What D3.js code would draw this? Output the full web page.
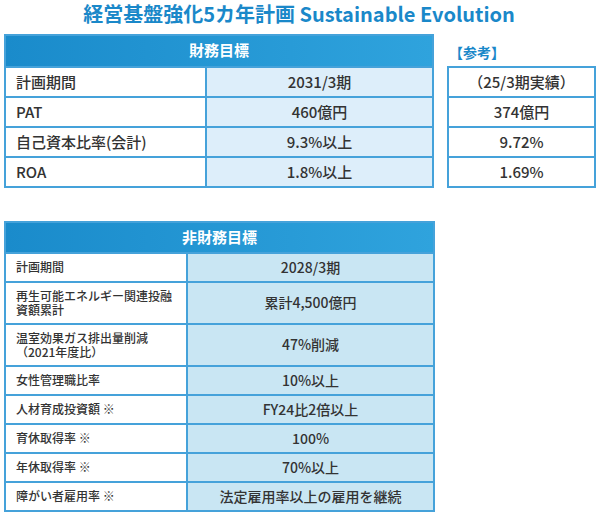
<!DOCTYPE html>
<html>
<head>
<meta charset="utf-8">
<script src="https://cdn.jsdelivr.net/npm/d3@7"></script>
<style>
  body { margin: 0; background: #fff; }
  text { font-family: "Noto Sans CJK JP", "Noto Sans", sans-serif; }
</style>
</head>
<body>
<div id="vis"></div>
<script>
const frame_width = 600;
const frame_height = 517;

// data
const title = "経営基盤強化5カ年計画 Sustainable Evolution";
const fin_header = "財務目標";
const fin_items = ["計画期間", "PAT", "自己資本比率(会計)", "ROA"];
const fin_targets = ["2031/3期", "460億円", "9.3%以上", "1.8%以上"];
const ref_label = "【参考】";
const ref_values = ["（25/3期実績）", "374億円", "9.72%", "1.69%"];

const nonfin_header = "非財務目標";
const nonfin_items = [
  ["計画期間"],
  ["再生可能エネルギー関連投融", "資額累計"],
  ["温室効果ガス排出量削減", "（2021年度比）"],
  ["女性管理職比率"],
  ["人材育成投資額 ※"],
  ["育休取得率 ※"],
  ["年休取得率 ※"],
  ["障がい者雇用率 ※"]
];
const nonfin_targets = ["2028/3期", "累計4,500億円", "47%削減", "10%以上", "FY24比2倍以上", "100%", "70%以上", "法定雇用率以上の雇用を継続"];

const blue = "#1a88c9";
const border = "#45a2da";

const svg = d3.select("#vis").append("svg")
  .attr("width", frame_width)
  .attr("height", frame_height);

const defs = svg.append("defs");
const grad = defs.append("linearGradient").attr("id", "hdr");
grad.append("stop").attr("offset", "0%").attr("stop-color", "#1a8bcb");
grad.append("stop").attr("offset", "100%").attr("stop-color", "#2fa3dd");

// title
svg.append("text")
  .attr("x", 299).attr("y", 22)
  .attr("text-anchor", "middle")
  .attr("font-size", 20).attr("font-weight", "bold")
  .attr("fill", blue)
  .text(title);

// ---------- financial table ----------
const f_x = d3.scaleLinear().domain([0, 1, 2]).range([5, 206, 433]);
const f_y = d3.scaleBand().domain(fin_items).range([67, 187]);

svg.append("rect")
  .attr("x", f_x(0)).attr("y", 35)
  .attr("width", f_x(2) - f_x(0)).attr("height", 32)
  .attr("fill", "url(#hdr)").attr("stroke", border).attr("stroke-width", 2);
svg.append("text")
  .attr("x", (f_x(0) + f_x(2)) / 2).attr("y", 56)
  .attr("text-anchor", "middle").attr("font-size", 15).attr("font-weight", "bold")
  .attr("fill", "#fff").text(fin_header);

fin_items.forEach((item, i) => {
  svg.append("rect")
    .attr("x", f_x(0)).attr("y", f_y(item))
    .attr("width", f_x(1) - f_x(0)).attr("height", f_y.bandwidth())
    .attr("fill", "#fff").attr("stroke", border).attr("stroke-width", 2);
  svg.append("rect")
    .attr("x", f_x(1)).attr("y", f_y(item))
    .attr("width", f_x(2) - f_x(1)).attr("height", f_y.bandwidth())
    .attr("fill", "#ddeefa").attr("stroke", border).attr("stroke-width", 2);
  svg.append("text")
    .attr("x", f_x(0) + 11).attr("y", f_y(item) + f_y.bandwidth() / 2 + 5.5)
    .attr("font-size", 15).attr("font-weight", 500).attr("fill", "#333").text(item);
  svg.append("text")
    .attr("x", (f_x(1) + f_x(2)) / 2).attr("y", f_y(item) + f_y.bandwidth() / 2 + 5.5)
    .attr("text-anchor", "middle").attr("font-size", 15).attr("font-weight", 500).attr("fill", "#333")
    .text(fin_targets[i]);
});

// reference box
const r_x = d3.scaleLinear().domain([0, 1]).range([448, 595]);
svg.append("text")
  .attr("x", r_x(0) + 1).attr("y", 58)
  .attr("font-size", 14).attr("font-weight", "bold").attr("fill", blue)
  .text(ref_label);
fin_items.forEach((item, i) => {
  svg.append("rect")
    .attr("x", r_x(0)).attr("y", f_y(item))
    .attr("width", r_x(1) - r_x(0)).attr("height", f_y.bandwidth())
    .attr("fill", "#fff").attr("stroke", border).attr("stroke-width", 2);
  svg.append("text")
    .attr("x", (r_x(0) + r_x(1)) / 2).attr("y", f_y(item) + f_y.bandwidth() / 2 + 5.5)
    .attr("text-anchor", "middle").attr("font-size", 15).attr("font-weight", 500).attr("fill", "#333")
    .text(ref_values[i]);
});

// ---------- non-financial table ----------
const n_x = d3.scaleLinear().domain([0, 1, 2]).range([5, 187, 434]);
const row_h = 29, line_h = 13;
let y0 = 253;
const n_rows = nonfin_items.map((lines, i) => {
  const h = row_h + line_h * (lines.length - 1);
  const r = {lines: lines, target: nonfin_targets[i], y: y0, h: h};
  y0 += h;
  return r;
});

svg.append("rect")
  .attr("x", n_x(0)).attr("y", 222)
  .attr("width", n_x(2) - n_x(0)).attr("height", 31)
  .attr("fill", "url(#hdr)").attr("stroke", border).attr("stroke-width", 2);
svg.append("text")
  .attr("x", (n_x(0) + n_x(2)) / 2).attr("y", 243)
  .attr("text-anchor", "middle").attr("font-size", 15).attr("font-weight", "bold")
  .attr("fill", "#fff").text(nonfin_header);

const rows = svg.selectAll(".nrow").data(n_rows).enter().append("g").attr("class", "nrow");
rows.append("rect")
  .attr("x", n_x(0)).attr("y", d => d.y)
  .attr("width", n_x(1) - n_x(0)).attr("height", d => d.h)
  .attr("fill", "#fff").attr("stroke", border).attr("stroke-width", 2);
rows.append("rect")
  .attr("x", n_x(1)).attr("y", d => d.y)
  .attr("width", n_x(2) - n_x(1)).attr("height", d => d.h)
  .attr("fill", "#c9e6f3").attr("stroke", border).attr("stroke-width", 2);
rows.each(function(d) {
  const g = d3.select(this);
  const top = d.y + d.h / 2 - (d.lines.length - 1) * 7 + 4.5;
  const t = g.append("text")
    .attr("x", n_x(0) + 11).attr("y", top)
    .attr("font-size", 12).attr("font-weight", 500).attr("fill", "#333");
  d.lines.forEach((ln, j) => {
    t.append("tspan")
      .attr("x", n_x(0) + 11).attr("dy", j === 0 ? 0 : 14)
      .text(ln);
  });
  g.append("text")
    .attr("x", (n_x(1) + n_x(2)) / 2).attr("y", d.y + d.h / 2 + 5)
    .attr("text-anchor", "middle").attr("font-size", 14).attr("font-weight", 500)
    .attr("fill", "#333").text(d.target);
});
</script>
</body>
</html>
